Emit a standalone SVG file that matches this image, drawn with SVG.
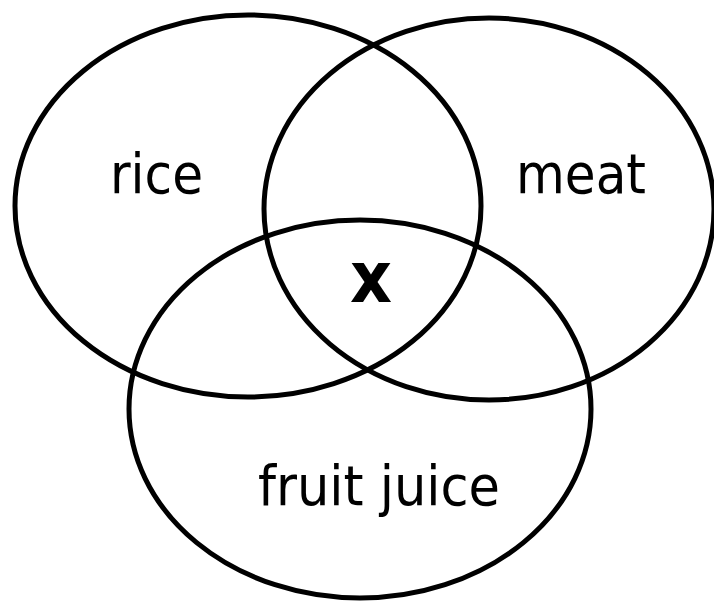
<svg xmlns="http://www.w3.org/2000/svg" width="714" height="602" viewBox="0 0 714 602">
<style>
.set{fill:none;stroke:#000;stroke-width:5}
.lbl{font-family:"DejaVu Sans Condensed","DejaVu Sans",sans-serif;font-size:56px;fill:#000}
.mark{font-family:"DejaVu Sans Condensed","DejaVu Sans",sans-serif;font-size:72px;font-weight:bold;fill:#000}
</style>
<rect width="714" height="602" fill="#fff"/>
<g id="rice">
<ellipse class="set" cx="248" cy="206" rx="233" ry="191"/>
<text class="lbl" x="110" y="193" textLength="93" lengthAdjust="spacingAndGlyphs">rice</text>
</g>
<g id="meat">
<ellipse class="set" cx="489" cy="209" rx="225" ry="191"/>
<text class="lbl" x="516" y="193" textLength="130" lengthAdjust="spacingAndGlyphs">meat</text>
</g>
<g id="fruit-juice">
<ellipse class="set" cx="360" cy="409" rx="231" ry="189"/>
<text class="lbl" x="258" y="505" textLength="242" lengthAdjust="spacingAndGlyphs">fruit juice</text>
</g>
<g id="intersection">
<text class="mark" x="350" y="302" textLength="42" lengthAdjust="spacingAndGlyphs">x</text>
</g>
<g id="connectors"></g>
</svg>
